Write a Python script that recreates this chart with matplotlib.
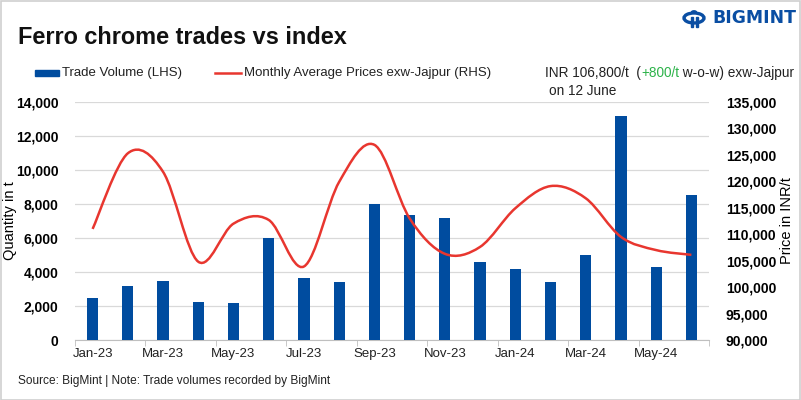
import matplotlib
matplotlib.use("Agg")
import matplotlib.pyplot as plt
from matplotlib.path import Path
from matplotlib.patches import PathPatch, Rectangle, Circle
import numpy as np

months = ["Jan-23", "Feb-23", "Mar-23", "Apr-23", "May-23", "Jun-23", "Jul-23", "Aug-23",
          "Sep-23", "Oct-23", "Nov-23", "Dec-23", "Jan-24", "Feb-24", "Mar-24", "Apr-24",
          "May-24", "Jun-24"]
trade_volume = [2500, 3200, 3500, 2250, 2200, 6000, 3650, 3400, 8000, 7350, 7150, 4600,
                4200, 3400, 5000, 13200, 4300, 8550]
avg_price = [111000, 125300, 121800, 104800, 112000, 112700, 103900, 119900, 126900,
             113000, 106300, 107600, 114900, 119100, 116800, 109500, 107000, 106100]
left_ticks = [0, 2000, 4000, 6000, 8000, 10000, 12000, 14000]
right_ticks = [90000, 95000, 100000, 105000, 110000, 115000, 120000, 125000, 130000, 135000]

plt.rcParams['font.family'] = ["Liberation Sans", "DejaVu Sans"]

BLUE = "#004c9f"
RED = "#e8362f"
W, H = 801, 400

fig = plt.figure(figsize=(8.01, 4.0), dpi=100)
ax = fig.add_axes([75/W, 60/H, 634/W, 238/H])
ax2 = ax.twinx()

x = np.arange(len(months))
ax.bar(x, trade_volume, width=0.32, color=BLUE, zorder=3)
ax.set_xlim(-0.5, len(months) - 0.5)
ax.set_ylim(0, 14000)
ax.set_yticks(left_ticks)
ax.set_yticklabels([f"{v:,}" for v in left_ticks], fontweight="bold", fontsize=10)
ax.grid(axis="y", color="#d9d9d9", linewidth=0.9, zorder=0)
ax.set_xticks(x[::2])
ax.set_xticklabels(months[::2], fontsize=9.5, color="#222222")
ax.set_xticks(np.arange(-0.5, len(months), 2), minor=True)
ax.tick_params(axis="x", which="major", length=0, pad=6)
ax.tick_params(axis="x", which="minor", length=4, color="#bfbfbf")
ax.tick_params(axis="y", length=0, pad=12)
for s in ["top", "right", "left"]:
    ax.spines[s].set_visible(False)
    ax2.spines[s].set_visible(False)
ax.spines["bottom"].set_color("#bfbfbf")
ax2.spines["bottom"].set_visible(False)
ax.set_ylabel("Quantity in t", fontsize=10.5)
ax.yaxis.set_label_coords((17 - 75) / 634, 0.5)

# Smoothed line (Excel-like Bezier through the points)
pts = np.column_stack([x, avg_price]).astype(float)
n = len(pts)
verts = [tuple(pts[0])]
codes = [Path.MOVETO]
for i in range(n - 1):
    p0 = pts[max(i - 1, 0)]
    p1 = pts[i]
    p2 = pts[i + 1]
    p3 = pts[min(i + 2, n - 1)]
    c1 = p1 + (p2 - p0) / 6.0
    c2 = p2 - (p3 - p1) / 6.0
    verts += [tuple(c1), tuple(c2), tuple(p2)]
    codes += [Path.CURVE4] * 3
ax2.add_patch(PathPatch(Path(verts, codes), facecolor="none", edgecolor=RED, lw=1.8, zorder=4))
ax2.set_ylim(90000, 135000)
ax2.set_yticks(right_ticks)
ax2.set_yticklabels([f"{v:,}" for v in right_ticks], fontweight="bold", fontsize=10)
ax2.tick_params(axis="y", length=0, pad=12)
ax2.set_ylabel("Price in INR/t", fontsize=10.5)
ax2.yaxis.set_label_coords((780 - 75) / 634, 0.5)

fig.canvas.draw()
R = fig.canvas.get_renderer()


def place(parts, x0, y, size, **kw):
    arts = []
    cx = x0
    for txt, col in parts:
        t = fig.text(cx / W, 1 - y / H, txt, fontsize=size, color=col, va="center",
                     ha="left", **kw)
        cx = t.get_window_extent(R).x1
        arts.append(t)
    return arts, cx


def fit_text(parts, x0, x1, y, base=10, **kw):
    """Place parts left to right, with the font size chosen so they span x0..x1 px."""
    arts, end = place(parts, x0, y, base, **kw)
    size = base * (x1 - x0) / (end - x0)
    for a in arts:
        a.remove()
    place(parts, x0, y, size, **kw)
    return size


# Title
fit_text([("Ferro chrome trades vs index", "#111111")], 18, 348, 38, base=17, fontweight="bold")

# Legend
fig.patches.append(Rectangle((35/W, 1 - 76/H), 24/W, 6/H, transform=fig.transFigure,
                             color=BLUE, figure=fig))
fit_text([("Trade Volume (LHS)", "#222222")], 62, 183, 73)
fig.lines.append(plt.Line2D([215/W, 241/W], [1 - 73/H, 1 - 73/H], transform=fig.transFigure,
                            color=RED, lw=1.8, figure=fig))
fit_text([("Monthly Average Prices exw-Jajpur (RHS)", "#222222")], 244, 492, 73)
sz = fit_text([("INR 106,800/t  (", "#222222"), ("+800/t", "#2db34a"),
               (" w-o-w) exw-Jajpur", "#222222")], 545, 795, 73)
place([("on 12 June", "#222222")], 549, 91, sz)

# Source
fit_text([("Source: BigMint | Note: Trade volumes recorded by BigMint", "#222222")], 18, 333, 381,
         base=8)

# Logo
LOGO = "#0a4ea3"
fig.patches.append(Circle((694/W, 1 - 18/H), 10/W, transform=fig.transFigure,
                          facecolor="none", edgecolor=LOGO, lw=2.4, figure=fig))
fig.patches.append(Rectangle((690.5/W, 1 - 27/H), 2.5/W, 10/H, transform=fig.transFigure,
                             color=LOGO, figure=fig))
fig.patches.append(Rectangle((695.5/W, 1 - 27/H), 2.5/W, 10/H, transform=fig.transFigure,
                             color=LOGO, figure=fig))
fig.patches.append(Circle((694/W, 1 - 12/H), 2.4/W, transform=fig.transFigure,
                          color=LOGO, figure=fig))
fit_text([("BIGMINT", LOGO)], 712, 795, 18, base=12, fontweight="bold", family="DejaVu Sans")

# Border
fig.patches.append(Rectangle((0.5/W, 0.5/H), 799/W, 398.5/H, transform=fig.transFigure,
                             facecolor="none", edgecolor="#cfcfcf", lw=1.2, figure=fig))

fig.savefig("out.png", dpi=100)
